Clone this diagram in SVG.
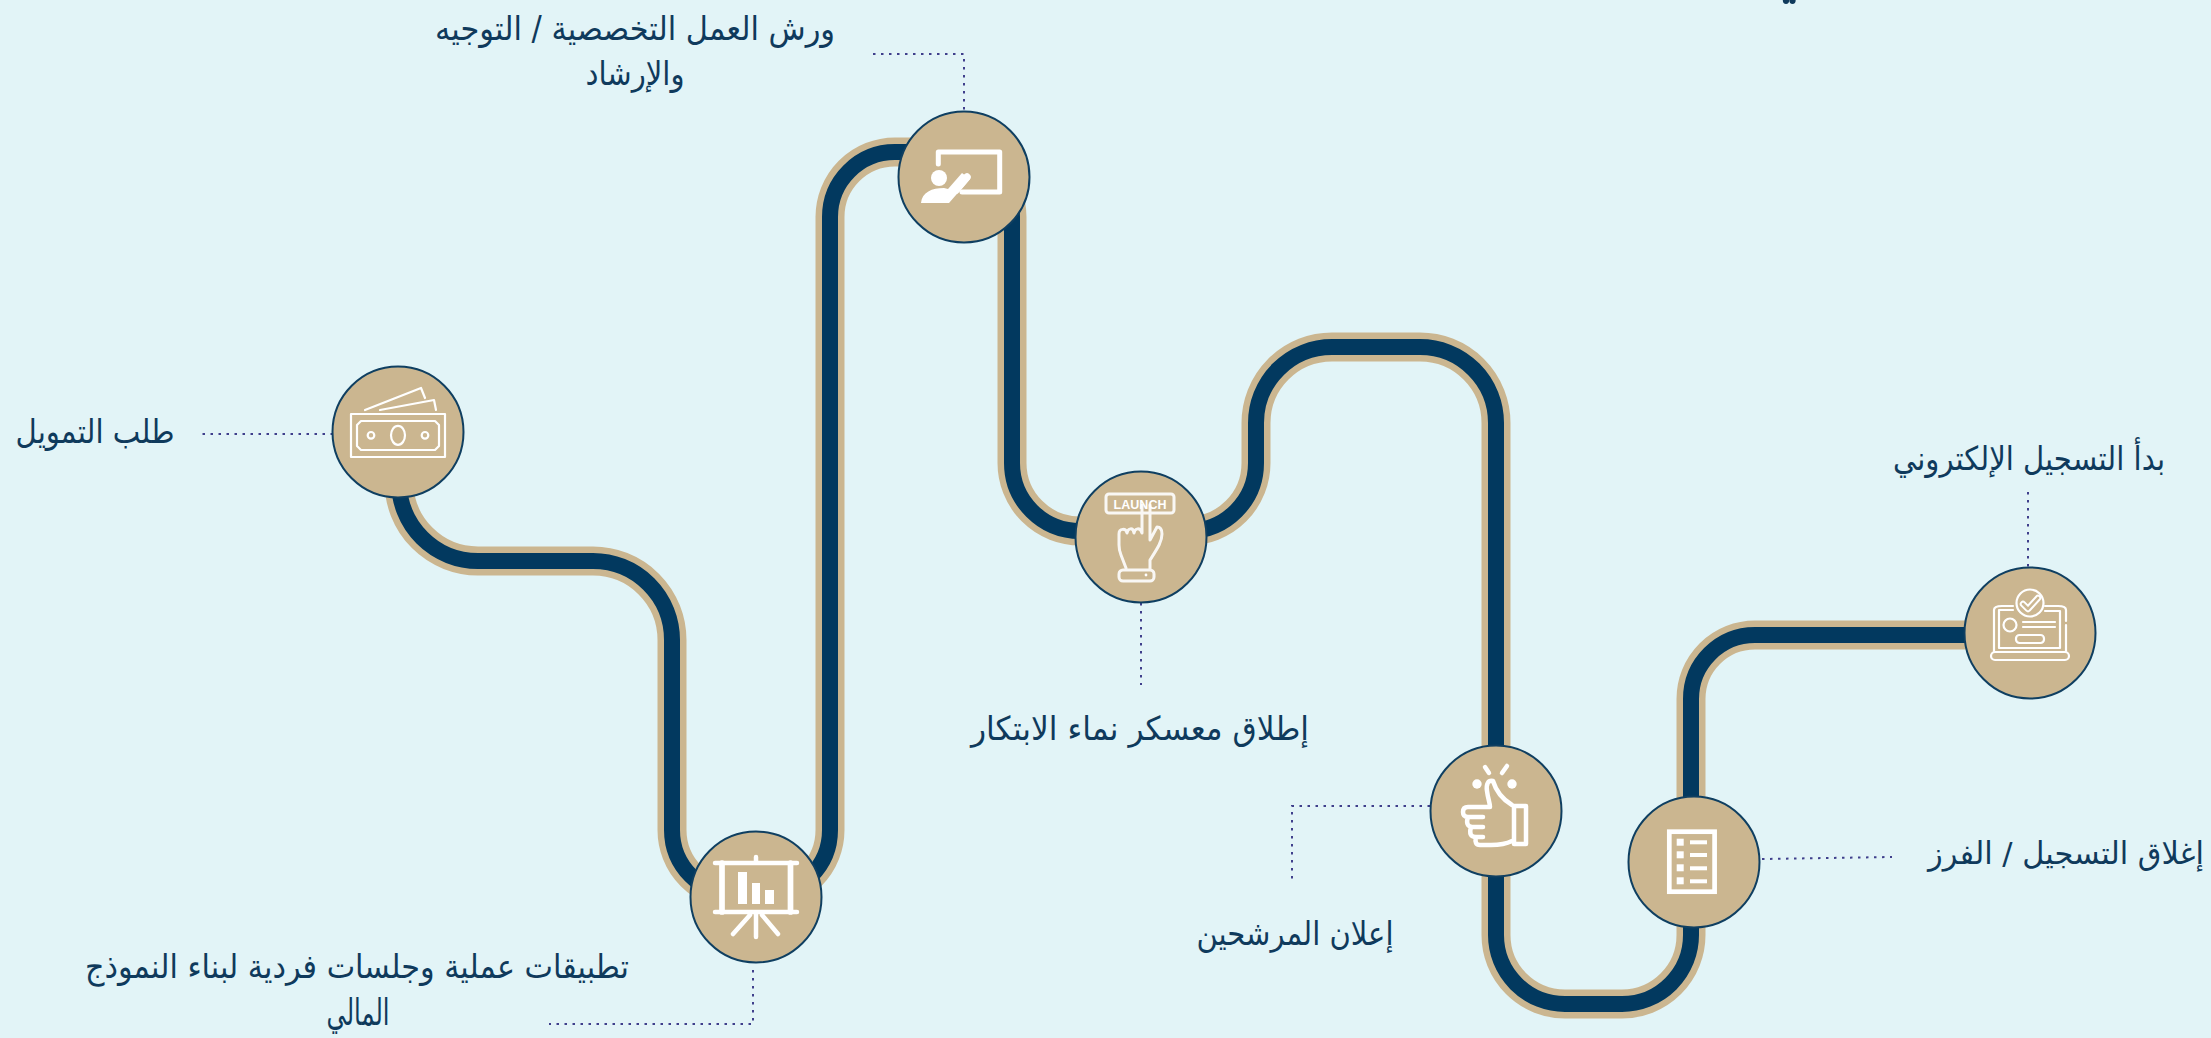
<svg xmlns="http://www.w3.org/2000/svg" width="2211" height="1038" viewBox="0 0 2211 1038">
<style>
.bg{fill:#e2f4f7}
.tan{fill:none;stroke:#cbb690;stroke-width:29}
.navy{fill:none;stroke:#02395f;stroke-width:16}
.dot{fill:none;stroke:#3f3f8c;stroke-width:2;stroke-dasharray:2.5 5.5}
.disc{fill:#cbb690;stroke:#0f3f61;stroke-width:2}
.lab{font-family:"DejaVu Sans","Noto Sans",sans-serif;font-size:33px;fill:#0f3a5c;text-anchor:middle;direction:rtl}
.ic{fill:none;stroke:#fff;stroke-linecap:round;stroke-linejoin:round}
.s2{stroke-width:2.2}.s3{stroke-width:3}.s4{stroke-width:4.5}
.w{fill:#fff}
</style>
<rect class="bg" width="2211" height="1038"/>
<g id="connectors">
<path class="tan" d="M2030,635H1755A64,64 0 0 0 1691,699V935A69,69 0 0 1 1622,1004H1565A69,69 0 0 1 1496,935V423A76,76 0 0 0 1420,347H1332A76,76 0 0 0 1256,423V463A68,68 0 0 1 1188,531H1080A68,68 0 0 1 1012,463V217A65,65 0 0 0 947,152H895A65,65 0 0 0 830,217V830A65,65 0 0 1 765,895H737A65,65 0 0 1 672,830V640A79,79 0 0 0 593,561H478A79,79 0 0 1 399,482V431"/>
<path class="navy" d="M2030,635H1755A64,64 0 0 0 1691,699V935A69,69 0 0 1 1622,1004H1565A69,69 0 0 1 1496,935V423A76,76 0 0 0 1420,347H1332A76,76 0 0 0 1256,423V463A68,68 0 0 1 1188,531H1080A68,68 0 0 1 1012,463V217A65,65 0 0 0 947,152H895A65,65 0 0 0 830,217V830A65,65 0 0 1 765,895H737A65,65 0 0 1 672,830V640A79,79 0 0 0 593,561H478A79,79 0 0 1 399,482V431"/>
<path class="dot" d="M2028,492V567"/>
<path class="dot" d="M1762,859L1892,857"/>
<path class="dot" d="M1430,806H1292V880"/>
<path class="dot" d="M1141,603V685"/>
<path class="dot" d="M873,54H964V110"/>
<path class="dot" d="M753,970V1024H549"/>
<path class="dot" d="M333,434H202"/>
</g>
<g id="top-fragment" fill="#0f3a5c"><ellipse cx="1786" cy="0" rx="3.2" ry="4"/><ellipse cx="1792.5" cy="0" rx="3.2" ry="4"/></g>
<g id="node-register" transform="translate(2030,633)">
<circle class="disc" r="65.5"/>
<g class="ic s2">
<circle cx="0" cy="-30" r="13.5"/>
<path d="M-7,-29L-2,-24L8,-35" stroke-width="6.5"/>
<path d="M-7,-29L-2,-24L8,-35" style="stroke:#cbb690" stroke-width="2.6"/>
<path d="M-17,-27H-28Q-36,-27 -36,-23V18M15,-27H28Q36,-27 36,-23V-12M36,-8V18"/>
<path d="M-17,-23H-31V15H30V-22H15"/>
<rect x="-39" y="19" width="78" height="8" rx="4"/>
<circle cx="-20" cy="-8" r="6.5"/>
<path d="M-7,-11H25M-7,-6H25"/>
<rect x="-14" y="2" width="28" height="8" rx="3.5"/>
</g>
<text class="lab" x="-1" y="-163" textLength="272" lengthAdjust="spacingAndGlyphs">بدأ التسجيل الإلكتروني</text>
</g>
<g id="node-screening" transform="translate(1694,862)">
<circle class="disc" r="65.5"/>
<rect x="-24.7" y="-30.3" width="45.3" height="60" fill="none" stroke="#fff" stroke-width="4.7"/>
<g class="w">
<rect x="-17.3" y="-23.3" width="7" height="7"/><rect x="-17.3" y="-10.7" width="7" height="7"/><rect x="-17.3" y="2.3" width="7" height="7"/><rect x="-17.3" y="15.3" width="7" height="7"/>
<rect x="-4" y="-21.7" width="17" height="4"/><rect x="-4" y="-9" width="17" height="4"/><rect x="-4" y="4.3" width="17" height="4"/><rect x="-4" y="17.3" width="17" height="4"/>
</g>
<text class="lab" style="font-size:31px" x="372" y="2" textLength="276" lengthAdjust="spacingAndGlyphs">إغلاق التسجيل / الفرز</text>
</g>
<g id="node-candidates" transform="translate(1496,811)">
<circle class="disc" r="65.5"/>
<g class="ic s4">
<rect x="18" y="-5" width="12" height="38"/>
<path d="M16,-6C6,-12 0,-20 -3,-30C-8,-31 -10,-27 -9,-20C-8,-12 -6,-8 -6,-4H-28Q-33,-4 -33,1Q-33,6 -28,6H-13M-28,6Q-31,15 -24,16H-13M-25,16Q-28,26 -20,26H-13M-20,26Q-22,34 -16,34H-5C5,34 12,32 16,30"/>
<path d="M-11,-44L-7,-38M11,-45L6,-38"/>
</g>
<circle class="w" cx="-19" cy="-27" r="4.7"/><circle class="w" cx="16" cy="-27" r="4.7"/>
<text class="lab" x="-201" y="134" textLength="197" lengthAdjust="spacingAndGlyphs">إعلان المرشحين</text>
</g>
<g id="node-launch" transform="translate(1141,537)">
<circle class="disc" r="65.5"/>
<text x="-1" y="-28" font-family="Liberation Sans,sans-serif" font-size="12.5" font-weight="700" fill="#fff" text-anchor="middle" textLength="53" lengthAdjust="spacing">LAUNCH</text>
<g class="ic s3" opacity="0.9">
<rect x="-35" y="-43" width="68" height="19" rx="3"/>
<path d="M1,-32V-4C-1,-10 -6,-9 -7,-4C-8,-10 -13,-9 -14,-4C-15,-9 -22,-9 -22,-3V8Q-22,13 -20,18L-15,31M9,-32V3L16,-10C20,-10 21,-6 21,-3C21,5 16,12 9,23V32"/>
<rect x="-22" y="33" width="35" height="11" rx="4"/>
</g>
<circle class="w" cx="5" cy="38" r="1.4"/>
<text class="lab" x="-1" y="203" textLength="338" lengthAdjust="spacingAndGlyphs">إطلاق معسكر نماء الابتكار</text>
</g>
<g id="node-workshops" transform="translate(964,177)">
<circle class="disc" r="65.5"/>
<path class="ic" stroke-width="5" d="M-25.7,-13V-25H35.7V15H-2"/>
<circle class="w" cx="-25" cy="1" r="8"/>
<path class="w" d="M-43,26C-42,15 -32,11 -20,11L-16,12L-2,-4L6,2L-15,26Z"/>
<path class="ic" stroke-width="7.5" d="M-8,13L3,0"/>
<text class="lab" x="-329" y="-137" textLength="400" lengthAdjust="spacingAndGlyphs">ورش العمل التخصصية / التوجيه</text>
<text class="lab" x="-329" y="-92" textLength="99" lengthAdjust="spacingAndGlyphs">والإرشاد</text>
</g>
<g id="node-practice" transform="translate(756,897)">
<circle class="disc" r="65.5"/>
<g class="ic s4">
<path d="M-41,-34H41M-41,15H41M0,-40V-34M0,15V40M-6,18L-23,37M6,18L22,37"/>
<path d="M-34,-34V15M34.5,-34V15" stroke-width="5.7"/>
</g>
<g class="w"><rect x="-18" y="-25" width="9" height="32"/><rect x="-4" y="-14" width="8" height="21"/><rect x="9" y="-7" width="9" height="14"/></g>
<text class="lab" x="-399" y="81" textLength="544" lengthAdjust="spacingAndGlyphs">تطبيقات عملية وجلسات فردية لبناء النموذج</text>
<text class="lab" style="font-size:37px" x="-398" y="128" textLength="63" lengthAdjust="spacingAndGlyphs">المالي</text>
</g>
<g id="node-funding" transform="translate(398,432)">
<circle class="disc" r="65.5"/>
<g class="ic s2" stroke-linejoin="miter">
<rect x="-47" y="-18" width="94" height="43"/>
<path d="M-37,-11H37L41,-7V14L37,18H-37L-41,14V-7Z"/>
<ellipse cx="0" cy="3.3" rx="7" ry="9.5"/>
<circle cx="-27" cy="3.3" r="3.3"/><circle cx="27" cy="3.3" r="3.3"/>
<path d="M-33,-22L23,-44L27,-34M-18,-22L36,-32L38,-22"/>
</g>
<text class="lab" x="-303" y="11" textLength="159" lengthAdjust="spacingAndGlyphs">طلب التمويل</text>
</g>
</svg>
